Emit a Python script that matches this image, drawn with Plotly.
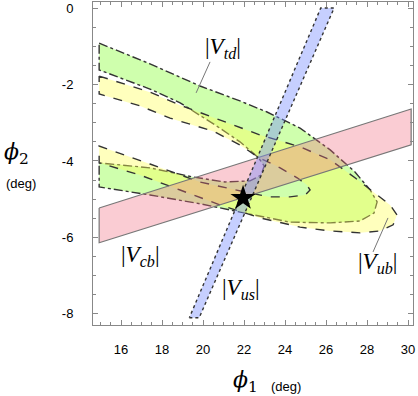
import plotly.graph_objects as go

# ---------------- data ----------------
# |Vcb| band (parallelogram)
vcb_x = [14.93, 30.15, 30.15, 14.93]
vcb_y = [-5.23, -2.64, -3.58, -6.14]

# |Vus| band (steep strip)
vus_x = [19.33, 19.81, 26.39, 25.74]
vus_y = [-8.10, -8.10, 0.00, 0.00]

# |Vtd| crescent: outer boundary (upper arm -> vertex -> lower arm)
vtd_outer_x = [14.93, 17.41, 19.85, 21.80, 23.12, 24.73, 26.20, 27.41, 28.15, 28.49,
               28.34, 27.66, 26.20, 24.24, 22.29, 19.85, 17.41, 14.93]
vtd_outer_y = [-0.92, -1.46, -2.04, -2.43, -2.72, -3.14, -3.71, -4.29, -4.76, -5.07,
               -5.36, -5.57, -5.62, -5.60, -5.39, -5.12, -4.89, -4.68]
# |Vtd| inner boundary (lower arm -> vertex -> upper arm)
vtd_inner_x = [14.93, 17.41, 19.51, 21.07, 22.29, 22.83, 22.98,
               22.68, 21.80, 20.59, 18.88, 17.41, 14.93]
vtd_inner_y = [-4.05, -4.18, -4.42, -4.55, -4.52, -4.37, -4.13,
               -3.90, -3.50, -3.06, -2.48, -2.12, -1.62]

# |Vub| crescent: outer boundary
vub_outer_x = [14.93, 17.41, 18.88, 20.83, 22.78, 24.73, 26.20, 27.41, 28.39, 29.12, 29.46,
               29.27, 28.63, 27.66, 26.20, 24.73, 22.78, 20.83, 18.88, 16.93, 14.93]
vub_outer_y = [-1.78, -2.20, -2.54, -2.93, -3.32, -3.63, -3.97, -4.44, -4.84, -5.15, -5.41,
               -5.67, -5.83, -5.88, -5.83, -5.73, -5.49, -5.15, -4.76, -4.37, -4.05]
# |Vub| inner boundary
vub_inner_x = [14.93, 17.41, 19.85, 22.29, 23.27, 24.24, 24.98, 25.22,
               25.07, 24.59, 23.76, 22.68, 21.80, 20.49, 18.39, 16.93, 14.93]
vub_inner_y = [-3.61, -4.08, -4.55, -4.84, -4.94, -4.94, -4.89, -4.76,
               -4.63, -4.44, -4.18, -3.90, -3.58, -3.22, -2.88, -2.56, -2.25]

# best-fit point
star_x = [21.95]
star_y = [-4.97]

# axes
x_ticks = [16, 18, 20, 22, 24, 26, 28, 30]
x_ticktext = ["16", "18", "20", "22", "24", "26", "28", "30"]
y_ticks = [0, -2, -4, -6, -8]
y_ticktext = ["0", "-2", "-4", "-6", "-8"]
x_range = [14.63, 30.24]
y_range = [-8.29, 0.157]

# region labels
lab_text = ["|<i>V</i><sub><i>td</i></sub>|", "|<i>V</i><sub><i>cb</i></sub>|",
            "|<i>V</i><sub><i>us</i></sub>|", "|<i>V</i><sub><i>ub</i></sub>|"]
lab_x = [20.98, 16.93, 21.85, 28.49]
lab_y = [-1.05, -6.48, -7.35, -6.67]
# leader lines (x0, y0, x1, y1)
leader_vtd = [20.34, -1.41, 19.66, -2.22]
leader_vub = [28.29, -6.38, 29.02, -5.49]

# ---------------- figure ----------------
fig = go.Figure()

fig.add_trace(go.Scatter(
    x=vtd_outer_x + vtd_inner_x + [vtd_outer_x[0]],
    y=vtd_outer_y + vtd_inner_y + [vtd_outer_y[0]],
    fill="toself", fillcolor="rgba(140,255,60,0.42)", mode="lines",
    line=dict(color="#333333", width=1.4, dash="dashdot"), hoverinfo="skip"))

fig.add_trace(go.Scatter(
    x=vub_outer_x + vub_inner_x + [vub_outer_x[0]],
    y=vub_outer_y + vub_inner_y + [vub_outer_y[0]],
    fill="toself", fillcolor="rgba(255,255,90,0.40)", mode="lines",
    line=dict(color="#333333", width=1.4, dash="dash"), hoverinfo="skip"))

fig.add_trace(go.Scatter(
    x=vcb_x + [vcb_x[0]], y=vcb_y + [vcb_y[0]],
    fill="toself", fillcolor="rgba(240,110,130,0.35)", mode="lines",
    line=dict(color="#777777", width=1.2), hoverinfo="skip"))

fig.add_trace(go.Scatter(
    x=vus_x + [vus_x[0]], y=vus_y + [vus_y[0]],
    fill="toself", fillcolor="rgba(120,140,255,0.42)", mode="lines",
    line=dict(color="#333333", width=1.4, dash="dot"), hoverinfo="skip"))

fig.add_trace(go.Scatter(
    x=star_x, y=star_y, mode="markers",
    marker=dict(symbol="star", size=19, color="black"), hoverinfo="skip"))

for t, x, y in zip(lab_text, lab_x, lab_y):
    fig.add_annotation(x=x, y=y, xref="x", yref="y", text=t, showarrow=False,
                       xanchor="center", yanchor="middle",
                       font=dict(family="Liberation Serif", size=23, color="black"))

for seg in (leader_vtd, leader_vub):
    fig.add_shape(type="line", xref="x", yref="y", x0=seg[0], y0=seg[1], x1=seg[2], y1=seg[3],
                  line=dict(color="#777777", width=1))

# axis titles
title_font = dict(family="DejaVu Serif", size=22, color="black")
unit_font = dict(family="Liberation Sans", size=13, color="black")
fig.add_annotation(xref="paper", yref="paper", x=-0.2406, y=0.5325, showarrow=False,
                   xanchor="center", yanchor="middle", text="<i>ϕ</i><sub>2</sub>", font=title_font)
fig.add_annotation(xref="paper", yref="paper", x=-0.225, y=0.4396, showarrow=False,
                   xanchor="center", yanchor="middle", text="(deg)", font=unit_font)
fig.add_annotation(xref="paper", yref="paper", x=0.478, y=-0.175, showarrow=False,
                   xanchor="center", yanchor="middle", text="<i>ϕ</i><sub>1</sub>", font=title_font)
fig.add_annotation(xref="paper", yref="paper", x=0.603, y=-0.189, showarrow=False,
                   xanchor="center", yanchor="middle", text="(deg)", font=unit_font)

axis_common = dict(showgrid=False, zeroline=False, showline=True, linecolor="#888888", linewidth=1,
                   mirror="allticks", ticks="inside", ticklen=5, tickcolor="#888888",
                   tickfont=dict(family="Liberation Sans", size=13, color="black"),
                   minor=dict(tickmode="linear", tick0=0, dtick=0.5, ticks="inside", ticklen=3,
                              tickcolor="#888888", showgrid=False))

fig.update_xaxes(range=x_range, tickmode="array", tickvals=x_ticks, ticktext=x_ticktext,
                 ticklabelstandoff=12, **axis_common)
fig.update_yaxes(range=y_range, tickmode="array", tickvals=y_ticks, ticktext=y_ticktext,
                 ticklabelstandoff=16, **axis_common)

fig.update_layout(width=418, height=396, margin=dict(l=93, r=5, t=2, b=71),
                  paper_bgcolor="white", plot_bgcolor="white", showlegend=False)

fig.write_html("out.html", config={"displayModeBar": False},
               post_script="document.body.style.margin='0';document.body.style.overflow='hidden';")
